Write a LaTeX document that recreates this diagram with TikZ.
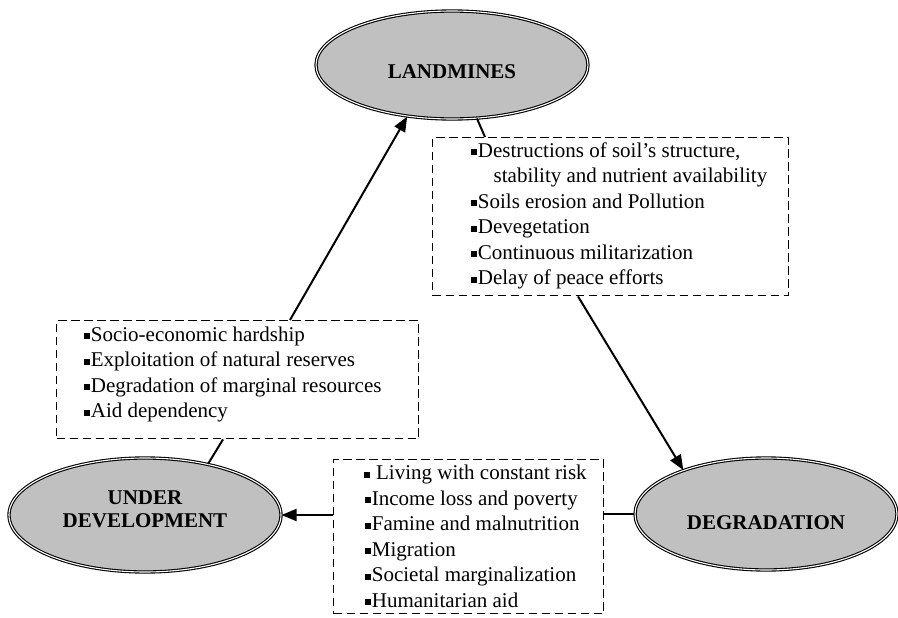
\documentclass[tikz,border=0pt]{standalone}
\usepackage{fontspec}
\setmainfont{Liberation Serif}
\usetikzlibrary{shapes.geometric,arrows.meta,calc}
\definecolor{ovalgray}{RGB}{192,192,192}
\newcommand\bul{\rule[2pt]{6pt}{6pt}\hspace{1.2pt}}
\begin{document}
\begin{tikzpicture}[x=1pt,y=-1pt,
  oval/.style={ellipse, draw=black, line width=1.1pt, double=white, double distance=1.1pt,
    fill=ovalgray, inner sep=0pt, font=\fontsize{21}{23}\selectfont\bfseries},
  listbox/.style={draw=black, dash pattern=on 8.5pt off 4.5pt, line width=1.4pt,
    inner sep=0pt, anchor=north west, font=\fontsize{21}{25.5}\selectfont},
  conn/.style={line width=2pt},
  arr/.style={conn, -{Triangle[length=15pt,width=12pt]}}
]
\useasboundingbox (0,0) rectangle (898,618);
\fill[white] (0,0) rectangle (898,618);

% ovals
\node[oval, minimum width=272pt, minimum height=108pt, text height=28pt, text depth=0pt]
  (lm) at (452,65) {LANDMINES};
\node[oval, minimum width=262pt, minimum height=112pt, text height=30pt, text depth=0pt]
  (dg) at (766,514) {DEGRADATION};
\node[oval, minimum width=272pt, minimum height=114pt, text height=39pt, text depth=15pt]
  (ud) at (145,515) {\begin{tabular}[b]{@{}c@{}}UNDER\\DEVELOPMENT\end{tabular}};

% dashed boxes
\node[listbox] (lb) at (56,320) {\parbox[c][118pt][t]{362pt}{\raggedright\vspace*{6pt}%
\hspace*{27pt}\bul Socio-economic hardship\\
\hspace*{27pt}\bul Exploitation of natural reserves\\
\hspace*{27pt}\bul Degradation of marginal resources\\
\hspace*{27pt}\bul Aid dependency}};

\node[listbox] (tr) at (432,137) {\parbox[c][158pt][t]{356pt}{\raggedright\vspace*{5pt}%
\hspace*{38pt}\bul Destructions of soil’s structure,\\
\hspace*{61pt}stability and nutrient availability\\
\hspace*{38pt}\bul Soils erosion and Pollution\\
\hspace*{38pt}\bul Devegetation\\
\hspace*{38pt}\bul Continuous militarization\\
\hspace*{38pt}\bul Delay of peace efforts}};

\node[listbox] (bm) at (333,459) {\parbox[c][154pt][t]{270pt}{\raggedright\vspace*{5.7pt}%
\hspace*{30pt}\bul\ Living with constant risk\\
\hspace*{31pt}\bul Income loss and poverty\\
\hspace*{31pt}\bul Famine and malnutrition\\
\hspace*{31pt}\bul Migration\\
\hspace*{31pt}\bul Societal marginalization\\
\hspace*{31pt}\bul Humanitarian aid}};

% connectors
\draw[arr] ($(lb.north west)+(234,0)$) -- (lm.229);
\draw[conn] (lm.295) -- ($(tr.north west)+(53,0)$);
\draw[arr] ($(tr.south west)+(146,0)$) -- (dg.152);
\draw[conn] (dg.west) -- (bm.east |- dg.west);
\draw[arr] (bm.west |- ud.east) -- (ud.east);
\draw[conn] ($(lb.south west)+(167,0)$) -- (ud.39);
\end{tikzpicture}
\end{document}
